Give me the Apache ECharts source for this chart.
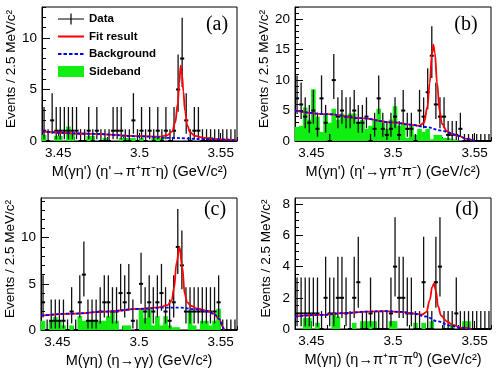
<!DOCTYPE html>
<html>
<head>
<meta charset="utf-8">
<title>M(gamma eta) fits</title>
<script src="https://cdn.jsdelivr.net/npm/echarts@6/dist/echarts.min.js"></script>
<style>
html, body { margin: 0; padding: 0; background: #fff; }
#main { width: 499px; height: 375px; }
</style>
</head>
<body>
<div id="main"></div>
<script>
// binning: 48 bins of 2.5 MeV from 3.44 GeV
var binStart = 3.44;
var binWidth = 0.0025;

// x ticks
var xTickMajor = [3.45, 3.5, 3.55];
var xTickMinor = [3.44, 3.45, 3.46, 3.47, 3.48, 3.49, 3.5, 3.51, 3.52, 3.53, 3.54, 3.55, 3.56];

// asymmetric poisson errors (68%) indexed by count
var poissonLo = [0, 0.173, 0.708, 1.367, 2.086, 2.840, 3.620, 4.419, 5.232, 6.057, 6.891, 7.741, 8.600, 9.465, 10.34];
var poissonHi = [1.148, 3.300, 4.638, 5.918, 7.163, 8.382, 9.584, 10.77, 11.95, 13.11, 14.27, 15.42, 16.55, 17.69, 18.82];

// (a) eta' -> pi+ pi- eta
var dataA = [1,0,2,1,1,1,1,1,1,0, 0,1,0,1,0,0,0,1,1,1, 0,0,2,0,1,0,1,0,1,0, 1,0,1,5,8,2,0,1,1,0, 0,0,0,0,0,0,0,0];
var sideA = [0.6,0,0,0.5,0.5,0,1.4,0.7,0,0, 0,0.5,0.5,0,0,0.3,0,0,0,0.3, 0.3,0.3,0.3,0,0.3,0,0,0.3,0.3,0.3, 0,0,0,0,0,0,0,0,0,0, 0,0.4,0,0,0,0,0,0];
var fitA = [[3.44,0.92],[3.47,0.7],[3.50,0.47],[3.512,0.42],[3.517,0.55],[3.520,0.9],[3.522,1.8],[3.5235,3.6],[3.5245,5.6],[3.5253,7.3],[3.5262,6.4],[3.527,4.8],[3.528,2.9],[3.5295,1.5],[3.531,0.85],[3.534,0.5],[3.54,0.3],[3.55,0.15],[3.56,0.08]];
var bkgA = [[3.44,0.92],[3.47,0.7],[3.50,0.45],[3.52,0.3],[3.54,0.18],[3.56,0.08]];

// (b) eta' -> gamma pi+ pi-
var dataB = [7,6,4,3,5,2,7,3,0,10, 4,5,4,4,5,3,3,4,0,2, 7,2,1,2,4,1,5,2,2,0, 5,4,8,14,6,4,4,1,1,1, 2,0,0,0,0,0,0,0];
var sideB = [2.3,2.5,5.5,3.5,8.5,4,1.5,4.5,3,5.3, 3.5,4.5,4,4.5,4.5,3,3.5,2,2.5,3.5, 5.3,3,2,3.5,5.7,2.5,3,0.5,2.5,1, 2,1.5,2,0.3,1,1,0.5,0.5,0.3,0.2, 0,0,0,0,0,0,0,0];
var fitB = [[3.44,5.0],[3.46,4.4],[3.48,3.75],[3.50,3.05],[3.51,2.7],[3.516,2.5],[3.519,3.0],[3.521,5.5],[3.5225,9.5],[3.5238,14.2],[3.5247,15.8],[3.5256,14.5],[3.527,9.5],[3.5285,5.0],[3.530,2.8],[3.533,1.6],[3.537,1.05],[3.54,0.85],[3.545,0.35],[3.55,0.02]];
var bkgB = [[3.44,5.0],[3.46,4.4],[3.48,3.75],[3.50,3.05],[3.51,2.7],[3.52,2.3],[3.53,1.7],[3.535,1.3],[3.54,0.85],[3.545,0.35],[3.55,0.02]];

// (c) eta -> gamma gamma
var dataC = [3,0,1,1,1,1,0,2,0,3, 6,1,1,1,2,3,3,2,2,4, 3,4,1,0,5,2,3,2,3,4, 2,1,3,9,7,2,2,2,2,2, 2,2,2,3,0,0,0,0];
var sideC = [1,0,1,1.4,1,0.5,0,0.5,0,1.5, 1,1,1,1,1,1,1.5,2,1,0, 0.5,0.5,0,0,2.3,1.3,2.3,0.5,1.5,0.5, 1.5,0.5,0.3,0.3,0,0,2,0.5,0,1, 1,0.5,1,2.3,0,0,0,0];
var fitC = [[3.44,1.55],[3.46,1.78],[3.48,2.0],[3.50,2.28],[3.512,2.45],[3.5175,2.7],[3.520,3.2],[3.5215,4.6],[3.523,7.3],[3.5248,9.0],[3.5265,6.8],[3.528,3.9],[3.5295,3.0],[3.532,2.6],[3.536,2.3],[3.542,2.05],[3.546,1.75],[3.549,1.2],[3.5515,0.3],[3.552,0]];
var bkgC = [[3.44,1.55],[3.46,1.78],[3.48,2.0],[3.50,2.28],[3.515,2.42],[3.525,2.42],[3.535,2.25],[3.542,2.05],[3.546,1.75],[3.549,1.2],[3.5515,0.3],[3.552,0]];

// (d) eta -> pi+ pi- pi0
var dataD = [1,1,1,1,1,1,0,2,1,1, 2,2,1,0,2,3,0,0,1,0, 0,0,0,1,4,2,2,1,1,0, 0,3,0,0,3,4,0,0,0,1, 0,0,0,0,0,0,0,0];
var sideD = [0,0,0.7,0.7,0,0.4,0,0,0,1.0, 0.8,0,0,0,0.4,0,0.5,0.5,0.5,0.5, 0,0,0,0.5,0.5,0,0,0,0,0.4, 0,0.4,0,0.5,0,0,0,0,0.3,0, 0,0.5,0.5,0,0,0,0,0];
var fitD = [[3.44,0.8],[3.455,0.9],[3.47,1.02],[3.485,1.12],[3.495,1.14],[3.505,1.1],[3.513,0.98],[3.518,0.93],[3.5205,1.1],[3.5225,1.85],[3.524,2.7],[3.5251,2.9],[3.5263,2.45],[3.5276,1.45],[3.5295,0.85],[3.533,0.48],[3.537,0.25],[3.542,0.08],[3.548,0]];
var bkgD = [[3.44,0.8],[3.455,0.9],[3.47,1.02],[3.485,1.12],[3.495,1.14],[3.505,1.1],[3.513,0.98],[3.52,0.8],[3.527,0.5],[3.535,0.22],[3.542,0.07],[3.548,0]];

var yTitle = 'Events / 2.5 MeV/c\u00b2';
var xTitles = [
  "M(\u03b3\u03b7') (\u03b7'\u2192\u03c0\u207a\u03c0\u207b\u03b7) (GeV/c\u00b2)",
  "M(\u03b3\u03b7') (\u03b7'\u2192\u03b3\u03c0\u207a\u03c0\u207b) (GeV/c\u00b2)",
  "M(\u03b3\u03b7) (\u03b7\u2192\u03b3\u03b3) (GeV/c\u00b2)",
  "M(\u03b3\u03b7) (\u03b7\u2192\u03c0\u207a\u03c0\u207b\u03c0\u2070) (GeV/c\u00b2)"
];
var tags = ['(a)', '(b)', '(c)', '(d)'];

function steps(a, b, s) {
  var out = [];
  for (var v = a; v <= b + 1e-9; v += s) out.push(Math.round(v * 100) / 100);
  return out;
}

var panels = [
  { data: dataA, side: sideA, fit: fitA, bkg: bkgA, ymax: 13,   yMajor: [0, 5, 10],         yMinor: steps(0, 13, 1),
    grid: { left: 42, top: 7, width: 195, height: 134 }, tag: [217, 25] },
  { data: dataB, side: sideB, fit: fitB, bkg: bkgB, ymax: 22,   yMajor: [0, 5, 10, 15, 20], yMinor: steps(0, 22, 1),
    grid: { left: 295, top: 7, width: 196, height: 134 }, tag: [466, 25] },
  { data: dataC, side: sideC, fit: fitC, bkg: bkgC, ymax: 14.3, yMajor: [0, 5, 10],         yMinor: steps(0, 14, 1),
    grid: { left: 41, top: 198, width: 196, height: 132 }, tag: [215, 210] },
  { data: dataD, side: sideD, fit: fitD, bkg: bkgD, ymax: 8.4,  yMajor: [0, 2, 4, 6, 8],    yMinor: steps(0, 8, 0.5),
    grid: { left: 295, top: 198, width: 196, height: 131 }, tag: [467, 210] }
];

var FONT = '"Liberation Sans", Arial, sans-serif';

function renderHist(params, api) {
  var v = api.value(1);
  if (!v) return null;
  var x = api.value(0);
  var a = api.coord([x - binWidth / 2, v]);
  var b = api.coord([x + binWidth / 2, 0]);
  return {
    type: 'rect',
    shape: { x: a[0] - 0.3, y: a[1], width: b[0] - a[0] + 0.6, height: b[1] - a[1] },
    style: { fill: '#11ee11' }
  };
}

function renderPoint(params, api) {
  var x = api.value(0), n = api.value(1), lo = api.value(2), hi = api.value(3);
  var top = api.coord([x, hi]);
  var bot = api.coord([x, lo]);
  var l = api.coord([x - binWidth / 2, n]);
  var r = api.coord([x + binWidth / 2, n]);
  return {
    type: 'group',
    children: [
      { type: 'line', shape: { x1: top[0], y1: top[1], x2: bot[0], y2: bot[1] }, style: { stroke: '#111', lineWidth: 1.3 } },
      { type: 'line', shape: { x1: l[0], y1: l[1], x2: r[0], y2: r[1] }, style: { stroke: '#000', lineWidth: 2 } }
    ]
  };
}

var grids = [], xAxes = [], yAxes = [], series = [], graphics = [];

panels.forEach(function (p, i) {
  grids.push(Object.assign({ show: true, borderColor: '#000', borderWidth: 1, backgroundColor: 'transparent' }, p.grid));

  xAxes.push({
    type: 'value', gridIndex: i, min: 3.44, max: 3.56, position: 'bottom',
    name: xTitles[i], nameLocation: 'middle', nameGap: 23,
    nameTextStyle: { fontFamily: FONT, fontSize: 14.5, color: '#000' },
    axisLine: { show: true, onZero: false, lineStyle: { color: '#000', width: 1 } },
    axisTick: { show: true, inside: true, length: 4, customValues: xTickMinor, lineStyle: { color: '#000' } },
    axisLabel: { show: true, customValues: xTickMajor, margin: 5, fontFamily: FONT, fontSize: 13.5, color: '#000' },
    splitLine: { show: false }
  });
  xAxes.push({
    type: 'value', gridIndex: i, min: 3.44, max: 3.56, position: 'bottom',
    axisLine: { show: false },
    axisTick: { show: true, inside: true, length: 8, customValues: xTickMajor, lineStyle: { color: '#000' } },
    axisLabel: { show: false }, splitLine: { show: false }
  });

  yAxes.push({
    type: 'value', gridIndex: i, min: 0, max: p.ymax, position: 'left',
    name: yTitle, nameLocation: 'middle', nameGap: 22, nameRotate: 90,
    nameTextStyle: { fontFamily: FONT, fontSize: 13.5, color: '#000', padding: [0, 0, 0, 10] },
    axisLine: { show: true, onZero: false, lineStyle: { color: '#000', width: 1 } },
    axisTick: { show: true, inside: true, length: 4, customValues: p.yMinor, lineStyle: { color: '#000' } },
    axisLabel: { show: true, customValues: p.yMajor, margin: 5, fontFamily: FONT, fontSize: 13.5, color: '#000' },
    splitLine: { show: false }
  });
  yAxes.push({
    type: 'value', gridIndex: i, min: 0, max: p.ymax, position: 'left',
    axisLine: { show: false },
    axisTick: { show: true, inside: true, length: 8, customValues: p.yMajor, lineStyle: { color: '#000' } },
    axisLabel: { show: false }, splitLine: { show: false }
  });

  var sideData = p.side.map(function (v, k) { return [binStart + (k + 0.5) * binWidth, v]; });
  var pointData = p.data.map(function (n, k) { return [binStart + (k + 0.5) * binWidth, n, poissonLo[n], poissonHi[n]]; });

  series.push({
    name: 'Sideband', type: 'custom', xAxisIndex: 2 * i, yAxisIndex: 2 * i, z: 1,
    renderItem: renderHist, data: sideData, itemStyle: { color: '#11ee11' }, silent: true
  });
  series.push({
    name: 'Data', type: 'custom', xAxisIndex: 2 * i, yAxisIndex: 2 * i, z: 2,
    renderItem: renderPoint, data: pointData, itemStyle: { color: '#000' }, silent: true
  });
  series.push({
    name: 'Fit result', type: 'line', xAxisIndex: 2 * i, yAxisIndex: 2 * i, z: 3,
    data: p.fit, showSymbol: false, smooth: 0.4, smoothMonotone: 'x',
    lineStyle: { color: '#ff0000', width: 1.8 }, itemStyle: { color: '#ff0000' }, silent: true
  });
  series.push({
    name: 'Background', type: 'line', xAxisIndex: 2 * i, yAxisIndex: 2 * i, z: 4,
    data: p.bkg, showSymbol: false, smooth: 0.4, smoothMonotone: 'x',
    lineStyle: { color: '#0000ff', width: 1.8, type: [3, 2] }, itemStyle: { color: '#0000ff' }, silent: true
  });

  graphics.push({
    type: 'text', x: p.tag[0], y: p.tag[1],
    style: { text: tags[i], font: '20px "Liberation Serif", "Times New Roman", serif', fill: '#000', align: 'center', verticalAlign: 'middle' }
  });
});

var chart = echarts.init(document.getElementById('main'), null, { renderer: 'canvas' });
chart.setOption({
  animation: false,
  backgroundColor: '#fff',
  grid: grids,
  xAxis: xAxes,
  yAxis: yAxes,
  legend: {
    orient: 'vertical', left: 58, top: 13, padding: 0,
    itemWidth: 26, itemHeight: 11, itemGap: 5.5, selectedMode: false,
    textStyle: { fontFamily: FONT, fontSize: 11.5, fontWeight: 'bold', color: '#000' },
    data: [
      { name: 'Data', icon: 'path://M0,4.9h26v1.2h-26z M12.4,0h1.2v11h-1.2z', itemStyle: { color: '#000', borderWidth: 0 } },
      { name: 'Fit result', icon: 'path://M0,0h0.01v0.01h-0.01z M0,4.5h26v2h-26z M25.99,10.99h0.01v0.01h-0.01z', itemStyle: { color: '#ff0000', borderWidth: 0 } },
      { name: 'Background', icon: 'path://M0,0h0.01v0.01h-0.01z M0,4.5h3.5v2h-3.5z M5.5,4.5h3.5v2h-3.5z M11,4.5h3.5v2h-3.5z M16.5,4.5h3.5v2h-3.5z M22,4.5h3.5v2h-3.5z M25.99,10.99h0.01v0.01h-0.01z', itemStyle: { color: '#0000ff', borderWidth: 0 } },
      { name: 'Sideband', icon: 'rect', itemStyle: { color: '#11ee11', borderWidth: 0 } }
    ]
  },
  graphic: graphics,
  series: series
});
</script>
</body>
</html>
